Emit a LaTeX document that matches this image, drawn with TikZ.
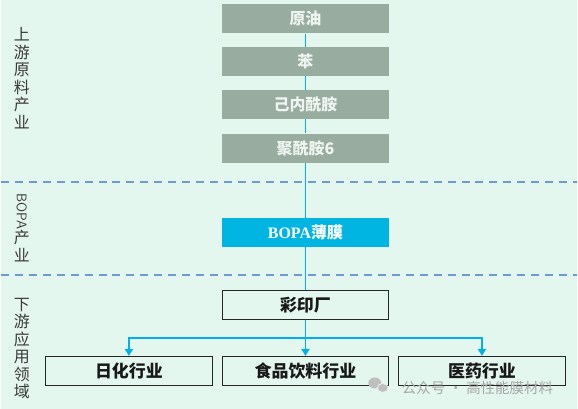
\documentclass[tikz,border=0pt]{standalone}
\usepackage{fontspec}
\setmainfont{Liberation Serif}
\newfontfamily\cjk{Noto Sans CJK SC}
\usetikzlibrary{arrows.meta}
\definecolor{bgmint}{HTML}{E4F7EE}
\definecolor{boxgray}{HTML}{98ACA0}
\definecolor{boxtext}{HTML}{EEF5F0}
\definecolor{filmblue}{HTML}{00B5E2}
\definecolor{feedline}{HTML}{00B0E6}
\definecolor{zoneline}{HTML}{6E9BD2}
\definecolor{labelgray}{HTML}{3A3A3A}

\begin{document}
\begin{tikzpicture}[x=1pt,y=-1pt,
    graybox/.style={fill=boxgray,minimum width=167pt,minimum height=29pt,inner sep=0pt,
        text=boxtext,font=\fontsize{16}{16}\selectfont\cjk\bfseries},
    filmbox/.style={fill=filmblue,minimum width=167pt,minimum height=29pt,inner sep=0pt,
        text=white,font=\fontsize{16}{16}\selectfont\bfseries},
    usebox/.style={draw=black!85,line width=1.2pt,fill=bgmint,minimum width=167pt,minimum height=29pt,
        inner sep=0pt,text=black!90,font=\fontsize{17}{17}\selectfont\cjk\bfseries},
    sidelabel/.style={text=labelgray,align=center,inner sep=0pt,font=\fontsize{16}{17.6}\selectfont\cjk},
    feed/.style={draw=feedline,line width=1.8pt},
    zone/.style={draw=zoneline,line width=1.6pt,dash pattern=on 8pt off 6pt}]
                        \fill[bgmint] (0,0) rectangle (578,410);
                        \coordinate (zoneAleft) at (0,182.5);
                        \coordinate (zoneAright) at (578,182.5);
                        \coordinate (zoneBleft) at (0,275.5);
                        \coordinate (zoneBright) at (578,275.5);
                        \draw [zone] (zoneAleft)--(zoneAright);
                        \draw [zone] (zoneBleft)--(zoneBright);
                        \node [graybox] (crude) at (305.5,19) {原油};
                        \node [graybox] (benzene) at (305.5,62) {苯};
                        \node [graybox] (capro) at (305.5,105) {己内酰胺};
                        \node [graybox] (nylon) at (305.5,148.5) {{\cjk 聚酰胺}6};
                        \node [filmbox] (bopa) at (305.5,233) {BOPA{\cjk 薄膜}};
                        \node [usebox] (printer) at (305.5,305.5) {彩印厂};
                        \node [usebox] (daily) at (128.5,372) {日化行业};
                        \node [usebox] (food) at (305.5,372) {食品饮料行业};
                        \node [usebox] (pharma) at (482.5,372) {医药行业};
                        \coordinate (branch) at (305.5,338.7);
                        \draw [feed] (crude.south)--(benzene.north);
                        \draw [feed] (benzene.south)--(capro.north);
                        \draw [feed] (capro.south)--(nylon.north);
                        \draw [feed] (nylon.south)--(bopa.north);
                        \draw [feed] (bopa.south)--(printer.north);
                        \draw [feed] (printer.south)--(branch);
                        \draw [feed,-{Triangle[width=8pt,length=7pt]}] (branch)-|(daily.north);
                        \draw [feed,-{Triangle[width=8pt,length=7pt]}] (branch)--(food.north);
                        \draw [feed,-{Triangle[width=8pt,length=7pt]}] (branch)-|(pharma.north);
                        \node [sidelabel] (upstream) at (21,78.5)
                        {上\\游\\原\\料\\产\\业};
                        \node [sidelabel] (midstream) at (21,228.5)
                        {\rotatebox{-90}{\fontsize{14}{14}\selectfont\sffamily BOPA}\\产\\业};
                        \node [sidelabel] (downstream) at (21,349.5)
                        {下\\游\\应\\用\\领\\域};
                        \fill [black!25] (375,384) ellipse (6.5pt and 5.5pt);
                        \fill [black!25,draw=bgmint,line width=0.8pt] (383,389) ellipse (5.5pt and 4.5pt);
                        \node [text=black!35,inner sep=0pt,font=\fontsize{14.5}{14.5}\selectfont\cjk] (mark) at (478,389)
                        {公众号 · 高性能膜材料};
                    \end{tikzpicture}
\end{document}
